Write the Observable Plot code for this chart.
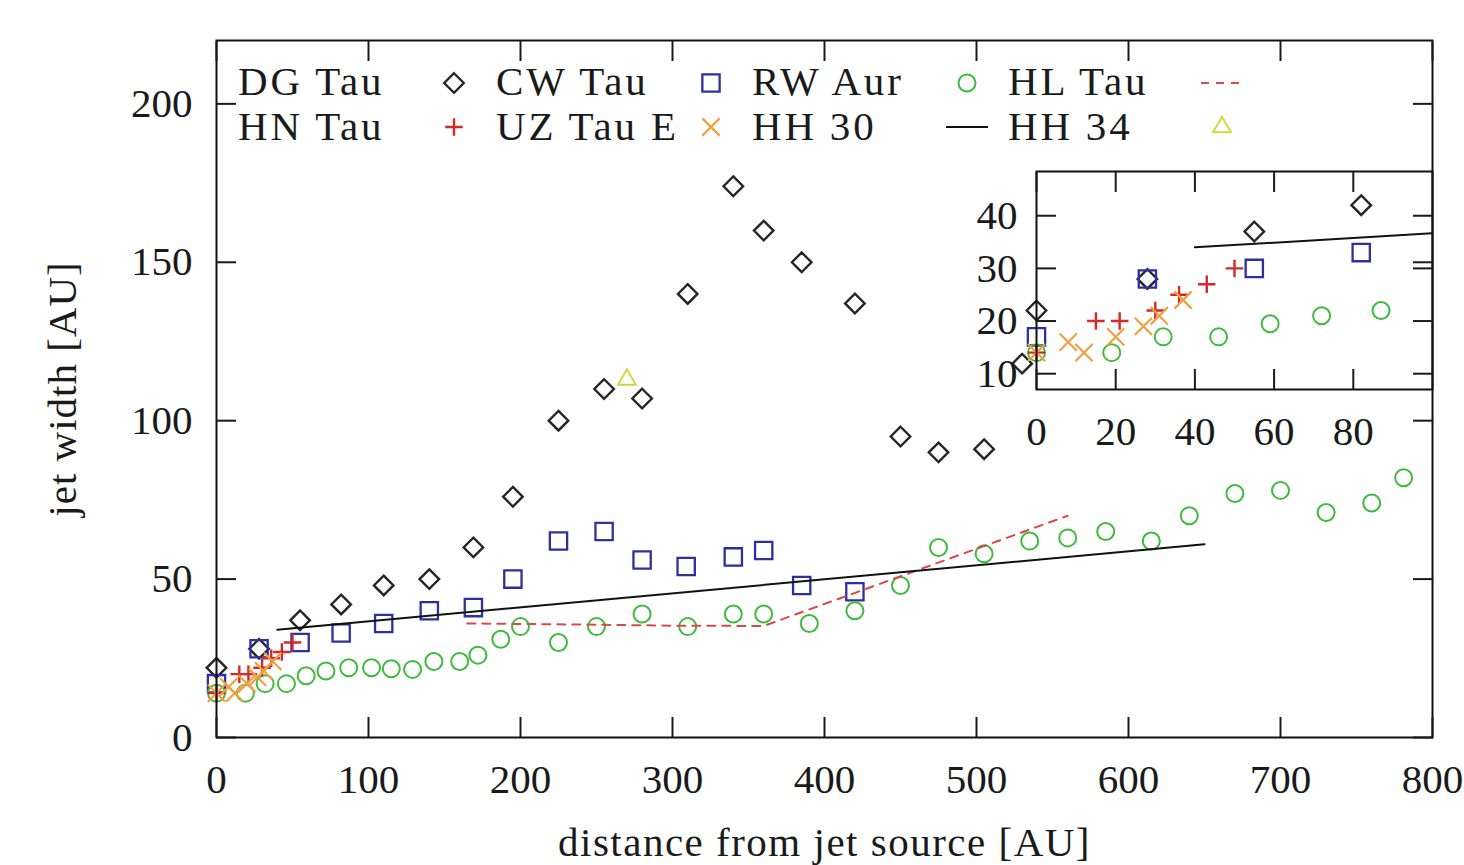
<!DOCTYPE html>
<html><head><meta charset="utf-8">
<script src="https://cdn.jsdelivr.net/npm/d3@7"></script>
<script src="https://cdn.jsdelivr.net/npm/@observablehq/plot@0.6"></script>
<style>
body{margin:0;background:#fff;}
#wrap{position:relative;width:1464px;height:865px;overflow:hidden;}
#main{position:absolute;left:0;top:0;}
#inset{position:absolute;left:960px;top:150px;}
</style></head><body><div id="wrap"><div id="main"></div><div id="inset"></div></div>
<script>
// ---- data (distance from jet source [AU], jet width [AU]) ----
const dgTauX = [0, 28, 55, 82, 110, 140, 169, 195, 225, 255, 280, 310, 340, 360, 385, 420, 450, 475, 505, 530];
const dgTauY = [22, 28, 37, 42, 48, 50, 60, 76, 100, 110, 107, 140, 174, 160, 150, 137, 95, 90, 91, 118];
const cwTauX = [0, 28, 55, 82, 110, 140, 169, 195, 225, 255, 280, 309, 340, 360, 385, 420];
const cwTauY = [17, 28, 30, 33, 36, 40, 41, 50, 62, 65, 56, 54, 57, 59, 48, 46];
const rwAurX = [0, 19, 32, 46, 59, 72, 87, 102, 115, 129, 143, 160, 172, 187, 200, 225, 250, 280, 310, 340, 360, 390, 420, 450, 475, 505, 535, 560, 585, 615, 640, 670, 700, 730, 760, 781];
const rwAurY = [14, 14, 17, 17, 19.5, 21, 22, 22, 21.7, 21.5, 24, 24, 26, 31, 35, 30, 35, 39, 35, 39, 39, 36, 40, 48, 60, 58, 62, 63, 65, 62, 70, 77, 78, 71, 74, 82];
const hlTauX = [165, 250, 300, 360, 560];
const hlTauY = [36, 35.6, 35.3, 35.2, 70];
const hnTauX = [0, 15, 21, 30, 36, 43, 50];
const hnTauY = [14, 20, 20, 22, 25, 27, 30];
const uzTauEX = [0, 8, 12, 20, 27, 31, 37];
const uzTauEY = [14, 16, 14, 17, 19, 21, 24];
const hh30X = [40, 650];
const hh30Y = [34, 61];
const hh34X = [270];
const hh34Y = [113];

const mainXTicks = [0, 100, 200, 300, 400, 500, 600, 700, 800];
const mainYTicks = [0, 50, 100, 150, 200];
const insetXTicks = [0, 20, 40, 60, 80];
const insetYTicks = [10, 20, 30, 40];

const legendLabels = [["DG Tau", "CW Tau", "RW Aur", "HL Tau"], ["HN Tau", "UZ Tau E", "HH 30", "HH 34"]];
const xLabel = "distance from jet source [AU]";
const yLabel = "jet width [AU]";

// ---- styling ----
const C = {
  dg: "#262626", cw: "#2f2f9f", rw: "#3dbb3d", hl: "#d94848",
  hn: "#d42a2a", uz: "#f0a040", hh30: "#111111", hh34: "#d8d640"
};
const series = [
  {key: "dg", X: dgTauX, Y: dgTauY, type: "dot", symbol: "diamond2", r: 8.8, sw: 2.4},
  {key: "cw", X: cwTauX, Y: cwTauY, type: "dot", symbol: "square2", r: 11, sw: 2.3},
  {key: "rw", X: rwAurX, Y: rwAurY, type: "dot", symbol: "circle", r: 8.5, sw: 2},
  {key: "hl", X: hlTauX, Y: hlTauY, type: "line", dash: "8,7", sw: 2},
  {key: "hn", X: hnTauX, Y: hnTauY, type: "dot", symbol: "plus", r: 5.7, sw: 2.4},
  {key: "uz", X: uzTauEX, Y: uzTauEY, type: "dot", symbol: "times", r: 7.9, sw: 2.2},
  {key: "hh30", X: hh30X, Y: hh30Y, type: "line", dash: null, sw: 2},
  {key: "hh34", X: hh34X, Y: hh34Y, type: "dot", symbol: "triangle2", r: 8.5, sw: 2}
];
const rows = s => s.X.map((x, i) => ({x, y: s.Y[i]}));

function seriesMarks(xmax, clip) {
  return series.map(s => {
    let d = rows(s);
    if (s.type === "dot") {
      if (xmax != null) d = d.filter(p => p.x <= xmax);
      return Plot.dot(d, {x: "x", y: "y", symbol: () => s.symbol, r: s.r, stroke: C[s.key], strokeWidth: s.sw, fill: "none"});
    }
    return Plot.line(d, {x: "x", y: "y", stroke: C[s.key], strokeWidth: s.sw, strokeDasharray: s.dash, clip});
  });
}
const FONT = "'Liberation Serif', 'Times New Roman', serif";

const main = Plot.plot({
  width: 1464, height: 865,
  marginLeft: 216, marginRight: 32, marginTop: 40, marginBottom: 128,
  x: {domain: [0, 800]},
  y: {domain: [0, 220]},
  style: {fontFamily: FONT, fontSize: "41px", color: "#1a1a1a", background: "transparent"},
  marks: [
    ...seriesMarks(null, false),
    Plot.frame({stroke: "#111", strokeWidth: 2}),
    Plot.axisX(mainXTicks, {anchor: "bottom", tickSize: -20, fill: "none", label: null, strokeWidth: 2}),
    Plot.axisX(mainXTicks, {anchor: "top", tickSize: -20, fill: "none", label: null, strokeWidth: 2}),
    Plot.axisY(mainYTicks, {anchor: "left", tickSize: -20, fill: "none", label: null, strokeWidth: 2}),
    Plot.axisY(mainYTicks, {anchor: "right", tickSize: -20, fill: "none", label: null, strokeWidth: 2}),
    Plot.axisX(mainXTicks, {anchor: "bottom", tickSize: 0, tickPadding: 26, label: null, fontSize: 41}),
    Plot.axisY(mainYTicks, {anchor: "left", tickSize: 0, tickPadding: 24, label: null, fontSize: 41}),
    Plot.text([xLabel], {text: d => d, frameAnchor: "bottom", textAnchor: "middle", dy: 118, fontSize: 41}),
    Plot.text([yLabel], {text: d => d, frameAnchor: "left", textAnchor: "middle", dx: -154, rotate: -90, fontSize: 41})
  ]
});
document.getElementById("main").appendChild(main);

const inset = Plot.plot({
  width: 504, height: 320,
  marginLeft: 76, marginRight: 32, marginTop: 21, marginBottom: 81,
  x: {domain: [0, 100]},
  y: {domain: [7, 48.4]},
  style: {fontFamily: FONT, fontSize: "41px", color: "#1a1a1a", background: "transparent", overflow: "visible"},
  marks: [
    ...seriesMarks(100, true),
    Plot.frame({stroke: "#111", strokeWidth: 2}),
    Plot.axisX(insetXTicks, {anchor: "bottom", tickSize: -20, fill: "none", label: null, strokeWidth: 2}),
    Plot.axisX(insetXTicks, {anchor: "top", tickSize: -20, fill: "none", label: null, strokeWidth: 2}),
    Plot.axisY(insetYTicks, {anchor: "left", tickSize: -20, fill: "none", label: null, strokeWidth: 2}),
    Plot.axisY(insetYTicks, {anchor: "right", tickSize: -20, fill: "none", label: null, strokeWidth: 2}),
    Plot.axisX(insetXTicks, {anchor: "bottom", tickSize: 0, tickPadding: 26, label: null, fontSize: 41}),
    Plot.axisY(insetYTicks, {anchor: "left", tickSize: 0, tickPadding: 19, label: null, fontSize: 41})
  ]
});
document.getElementById("inset").appendChild(inset);

// letter spacing for word labels
const svgMain = d3.select(main.tagName.toLowerCase() === "svg" ? main : main.querySelector("svg"));
svgMain.selectAll("text").each(function() {
  const t = this.textContent;
  if (t === xLabel) this.setAttribute("letter-spacing", "1.5px"), this.style.letterSpacing = "1.5px";
  if (t === yLabel) this.setAttribute("letter-spacing", "1px"), this.style.letterSpacing = "1px";
});

// ---- legend (inside the frame, gnuplot style: label then sample) ----
const textX = [238, 496, 752, 1008];
const symX = [454, 711, 967, 1222];
const rowBase = [95, 140];
const rowSym = [83, 127];
const lg = svgMain.append("g").attr("font-family", FONT).attr("font-size", 41).attr("fill", "#1a1a1a").attr("text-anchor", "start");
const symMap = {diamond2: d3.symbolDiamond2, square2: d3.symbolSquare2, circle: d3.symbolCircle, plus: d3.symbolPlus, times: d3.symbolTimes, triangle2: d3.symbolTriangle2};
legendLabels.forEach((row, ri) => row.forEach((lab, ci) => {
  const s = series[ri * 4 + ci];
  lg.append("text").attr("x", textX[ci]).attr("y", rowBase[ri]).attr("text-anchor", "start").attr("letter-spacing", "2.8px").text(lab);
  if (s.type === "dot") {
    lg.append("path").attr("transform", `translate(${symX[ci]},${rowSym[ri]})`)
      .attr("d", d3.symbol(symMap[s.symbol], Math.PI * s.r * s.r)())
      .attr("fill", "none").attr("stroke", C[s.key]).attr("stroke-width", s.sw);
  } else {
    lg.append("line").attr("x1", symX[ci] - 21).attr("x2", symX[ci] + 21)
      .attr("y1", rowSym[ri]).attr("y2", rowSym[ri])
      .attr("stroke", C[s.key]).attr("stroke-width", s.sw)
      .attr("stroke-dasharray", s.dash);
  }
}));
</script></body></html>
